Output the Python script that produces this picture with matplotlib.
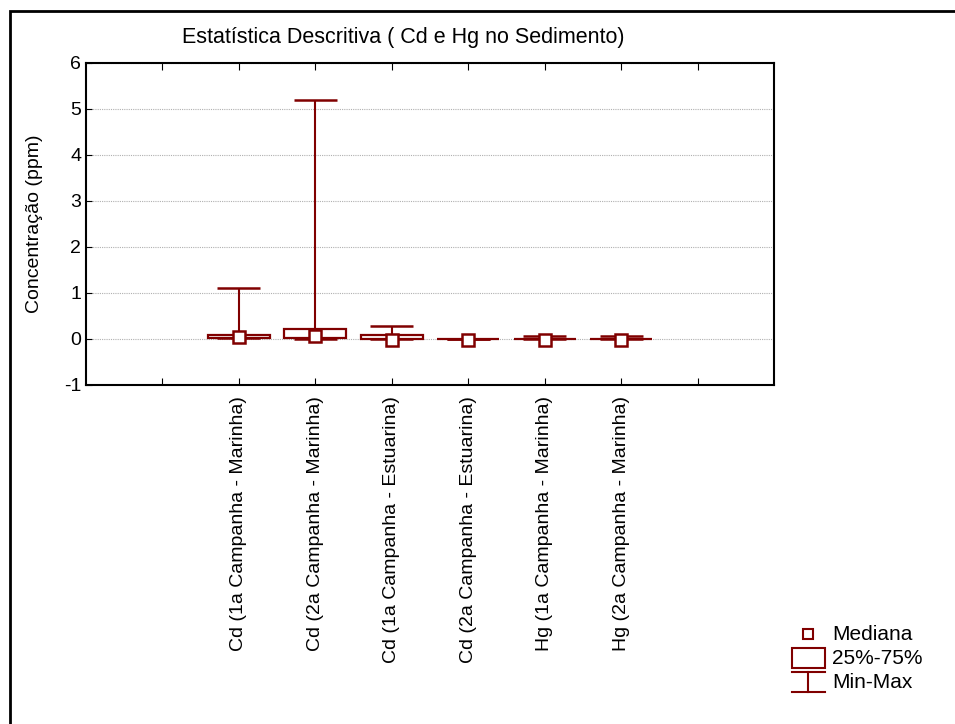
import matplotlib
matplotlib.use("Agg")
import matplotlib.pyplot as plt
from matplotlib.lines import Line2D
from matplotlib.patches import Rectangle

plt.rcParams['font.family'] = ['Liberation Sans', 'DejaVu Sans']
plt.rcParams['axes.unicode_minus'] = False

categories = ["Cd (1a Campanha - Marinha)", "Cd (2a Campanha - Marinha)",
              "Cd (1a Campanha - Estuarina)", "Cd (2a Campanha - Estuarina)",
              "Hg (1a Campanha - Marinha)", "Hg (2a Campanha - Marinha)"]
medians = [0.04, 0.07, -0.03, -0.02, -0.02, -0.02]
q1 = [0.03, 0.03, 0.0, 0.0, 0.0, 0.0]
q3 = [0.08, 0.22, 0.09, 0.005, 0.01, 0.01]
mins = [0.02, 0.0, 0.0, 0.0, 0.0, 0.0]
maxs = [1.1, 5.2, 0.29, 0.005, 0.06, 0.06]
yticks = [-1, 0, 1, 2, 3, 4, 5, 6]

col = '#800000'
W, H = 955, 724
fig = plt.figure(figsize=(W / 100, H / 100), dpi=100)
ax = fig.add_axes([86 / W, 1 - 385 / H, (774 - 86) / W, (385 - 63) / H])

xs = list(range(2, 2 + len(categories)))
bw, cw = 0.81, 0.56
ax.vlines(xs, q3, maxs, color=col, lw=1.5, zorder=2)
ax.hlines(maxs, [x - cw / 2 for x in xs], [x + cw / 2 for x in xs], color=col, lw=1.8, zorder=2)
ax.hlines(mins, [x - cw / 2 for x in xs], [x + cw / 2 for x in xs], color=col, lw=1.8, zorder=2)
ax.bar(xs, [b - a for a, b in zip(q1, q3)], bottom=q1, width=bw, color='white',
       edgecolor=col, linewidth=1.6, zorder=3)
ax.plot(xs, medians, 's', ms=8, mfc='white', mec=col, mew=1.8, zorder=4, ls='none')

ax.set_xlim(0, 9)
ax.set_ylim(-1, 6)
ax.set_yticks(yticks)
ax.set_xticks(range(1, 9))
ax.set_xticklabels([""] + categories + [""], rotation=90, fontsize=14)
ax.tick_params(axis='y', direction='in', labelsize=14, length=4, right=False)
ax.tick_params(axis='x', direction='in', length=5, top=True, pad=8)
ax.grid(axis='y', ls=(0, (1, 1)), color='#b0b0b0', lw=0.8)
ax.set_axisbelow(True)
for s in ax.spines.values():
    s.set_linewidth(1.5)
ax.set_ylabel("Concentração (ppm)", fontsize=14, labelpad=15)

fig.text(403 / W, 1 - 37 / H, "Estatística Descritiva ( Cd e Hg no Sedimento)",
         ha='center', va='center', fontsize=15.5)

# outer frame
fig.add_artist(Rectangle((10 / W, -0.1), 1.1, 1 - 11 / H + 0.1, transform=fig.transFigure,
                         fill=False, ec='black', lw=2))

# legend
tf = fig.transFigure
def fx(x): return x / W
def fy(y): return 1 - y / H
fig.add_artist(Line2D([fx(808)], [fy(634)], marker='s', ms=7, mfc='white', mec=col, mew=1.5,
                      ls='none', transform=tf))
fig.add_artist(Rectangle((fx(792), fy(668)), fx(825) - fx(792), fy(648) - fy(668),
                         transform=tf, fill=False, ec=col, lw=1.5))
fig.add_artist(Line2D([fx(792), fx(825)], [fy(672), fy(672)], color=col, lw=1.5, transform=tf))
fig.add_artist(Line2D([fx(792), fx(825)], [fy(692), fy(692)], color=col, lw=1.5, transform=tf))
fig.add_artist(Line2D([fx(808), fx(808)], [fy(672), fy(692)], color=col, lw=1.5, transform=tf))
for t, y in [("Mediana", 634), ("25%-75%", 658), ("Min-Max", 682)]:
    fig.text(fx(832), fy(y), t, ha='left', va='center', fontsize=15)

fig.savefig("out.png", dpi=100)
